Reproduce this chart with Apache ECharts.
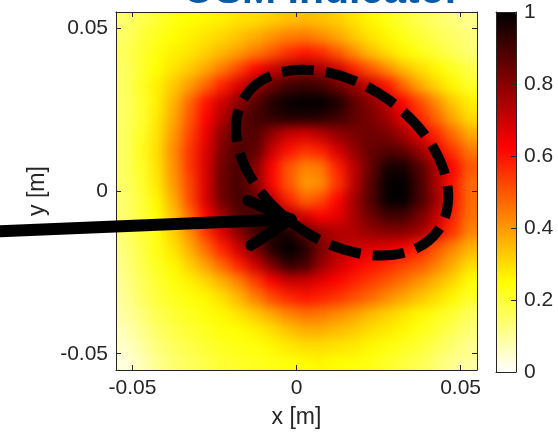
<!DOCTYPE html>
<html><head><meta charset="utf-8">
<script src="https://cdn.jsdelivr.net/npm/echarts@6/dist/echarts.min.js"></script>
<style>html,body{margin:0;padding:0;background:#fff}
#wrap{position:relative;width:558px;height:434px;overflow:hidden}
#clip{position:absolute;left:116px;top:12px;width:361px;height:359px;overflow:hidden}
#hm{position:absolute;left:-30px;top:-30px;width:421px;height:419px;filter:blur(6px)}
#c{position:absolute;left:0;top:0;width:558px;height:434px}
</style>
</head><body><div id="wrap"><div id="clip"><div id="hm"></div></div><div id="c"></div></div>
<script>
// ---- data ----
var xCenters = [-0.0525,-0.0475,-0.0425,-0.0375,-0.0325,-0.0275,-0.0225,-0.0175,-0.0125,-0.0075,-0.0025,0.0025,0.0075,0.0125,0.0175,0.0225,0.0275,0.0325,0.0375,0.0425,0.0475,0.0525];
var yCenters = [0.0525,0.0475,0.0425,0.0375,0.0325,0.0275,0.0225,0.0175,0.0125,0.0075,0.0025,-0.0025,-0.0075,-0.0125,-0.0175,-0.0225,-0.0275,-0.0325,-0.0375,-0.0425,-0.0475,-0.0525];
var osmValues = [
[0.14,0.17,0.2,0.23,0.25,0.26,0.27,0.29,0.3,0.32,0.34,0.35,0.34,0.32,0.29,0.26,0.23,0.2,0.17,0.15,0.13,0.11],
[0.15,0.19,0.22,0.25,0.27,0.29,0.31,0.34,0.37,0.41,0.44,0.45,0.42,0.38,0.33,0.29,0.26,0.23,0.2,0.17,0.15,0.13],
[0.16,0.2,0.24,0.27,0.29,0.32,0.36,0.4,0.45,0.5,0.56,0.6,0.57,0.5,0.42,0.35,0.3,0.26,0.23,0.2,0.17,0.14],
[0.15,0.2,0.25,0.29,0.33,0.38,0.45,0.53,0.62,0.7,0.76,0.78,0.76,0.7,0.58,0.5,0.42,0.35,0.3,0.26,0.22,0.18],
[0.15,0.21,0.27,0.33,0.4,0.48,0.58,0.68,0.78,0.85,0.9,0.92,0.9,0.84,0.78,0.7,0.6,0.48,0.38,0.31,0.26,0.21],
[0.15,0.2,0.27,0.36,0.48,0.6,0.7,0.8,0.87,0.95,0.99,1.0,1.0,0.96,0.86,0.8,0.72,0.62,0.52,0.42,0.33,0.27],
[0.15,0.2,0.28,0.38,0.5,0.62,0.74,0.86,0.9,0.93,0.95,0.95,0.94,0.91,0.86,0.82,0.76,0.66,0.57,0.48,0.38,0.3],
[0.15,0.21,0.29,0.4,0.53,0.65,0.8,0.87,0.88,0.78,0.7,0.68,0.72,0.78,0.82,0.84,0.82,0.76,0.67,0.57,0.47,0.38],
[0.15,0.22,0.3,0.42,0.55,0.67,0.82,0.89,0.86,0.7,0.6,0.55,0.58,0.68,0.78,0.85,0.88,0.86,0.78,0.66,0.55,0.45],
[0.15,0.21,0.29,0.41,0.55,0.68,0.84,0.9,0.8,0.62,0.5,0.43,0.45,0.58,0.72,0.85,0.96,0.97,0.88,0.75,0.62,0.5],
[0.15,0.2,0.28,0.4,0.53,0.68,0.85,0.9,0.8,0.62,0.5,0.4,0.42,0.55,0.72,0.87,0.99,1.0,0.9,0.75,0.6,0.47],
[0.14,0.19,0.26,0.37,0.52,0.68,0.84,0.9,0.87,0.72,0.58,0.48,0.52,0.62,0.76,0.88,0.99,1.0,0.9,0.78,0.6,0.47],
[0.14,0.19,0.25,0.34,0.47,0.62,0.76,0.88,0.91,0.89,0.75,0.68,0.62,0.66,0.75,0.84,0.9,0.9,0.83,0.72,0.58,0.46],
[0.14,0.19,0.24,0.32,0.42,0.55,0.68,0.8,0.91,0.96,0.96,0.86,0.78,0.74,0.74,0.78,0.8,0.8,0.76,0.67,0.55,0.43],
[0.13,0.18,0.23,0.29,0.37,0.47,0.58,0.7,0.82,0.95,1.0,0.95,0.82,0.74,0.7,0.68,0.66,0.63,0.58,0.5,0.43,0.36],
[0.12,0.17,0.22,0.26,0.32,0.39,0.48,0.58,0.7,0.82,0.93,0.9,0.78,0.7,0.64,0.6,0.57,0.53,0.5,0.44,0.37,0.3],
[0.11,0.16,0.2,0.24,0.27,0.31,0.37,0.44,0.54,0.63,0.7,0.7,0.66,0.62,0.58,0.54,0.5,0.46,0.41,0.36,0.31,0.25],
[0.1,0.15,0.19,0.22,0.24,0.26,0.3,0.36,0.44,0.52,0.57,0.6,0.58,0.55,0.51,0.47,0.42,0.38,0.34,0.3,0.26,0.21],
[0.09,0.13,0.17,0.2,0.22,0.24,0.26,0.29,0.33,0.38,0.43,0.46,0.45,0.42,0.39,0.35,0.32,0.29,0.26,0.23,0.2,0.16],
[0.07,0.11,0.15,0.18,0.2,0.22,0.24,0.25,0.27,0.3,0.34,0.37,0.37,0.35,0.33,0.3,0.28,0.26,0.23,0.2,0.17,0.14],
[0.05,0.09,0.13,0.16,0.18,0.2,0.22,0.23,0.24,0.26,0.28,0.3,0.3,0.29,0.28,0.26,0.24,0.22,0.2,0.17,0.14,0.11],
[0.03,0.07,0.11,0.14,0.16,0.18,0.2,0.21,0.22,0.23,0.24,0.25,0.26,0.25,0.24,0.23,0.21,0.19,0.17,0.14,0.11,0.09]
];
var xTicks = [-0.05, 0, 0.05];
var yTicks = [-0.05, 0, 0.05];
var xTickLabels = ['-0.05', '0', '0.05'];
var yTickLabels = ['-0.05', '0', '0.05'];
var cbTicks = [0, 0.2, 0.4, 0.6, 0.8, 1];
var cbTickLabels = ['0', '0.2', '0.4', '0.6', '0.8', '1'];
var arrowShaft = [[-0.0903, -0.0124], [-0.0017, -0.0087]];
var arrowHead = [[-0.0148, -0.0029], [-0.0017, -0.0087], [-0.0139, -0.0167]];
var ellipseCenter = [0.0139, 0.0087];
var ellipseSemiAxes = [0.0358, 0.0240];
var ellipseAngleDeg = -35;
var titleText = 'OSM Indicator';
var xName = 'x [m]';
var yName = 'y [m]';

// ---- styling ----
var FONT = '"Liberation Sans", Arial, Helvetica, sans-serif';
var AX = '#262626';
var hot = ['#ffffff','#ffff80','#ffff00','#ffaa00','#ff5500','#ff0000','#aa0000','#550000','#000000'];
var XMIN = -0.055, XMAX = 0.055, YMIN = -0.055, YMAX = 0.055;
var PAD = 30;

var cells = [];
for (var j = 0; j < yCenters.length; j++) {
  for (var i = 0; i < xCenters.length; i++) {
    cells.push([xCenters[i], yCenters[j], osmValues[j][i]]);
  }
}
var halfX = Math.abs(xCenters[1] - xCenters[0]) / 2;
var halfY = Math.abs(yCenters[1] - yCenters[0]) / 2;
var xLo = Math.min.apply(null, xCenters), xHi = Math.max.apply(null, xCenters);
var yLo = Math.min.apply(null, yCenters), yHi = Math.max.apply(null, yCenters);

function fmt(list, labels) { return function (v) { for (var k = 0; k < list.length; k++) { if (Math.abs(list[k] - v) < 1e-9) return labels[k]; } return ''; }; }

var G0 = {left: 116, top: 12, width: 361, height: 359};
var G1 = {left: 496, top: 12, width: 20, height: 360};

// ---- heat layer (smoothed by a CSS blur, clipped to the plot box) ----
var hm = echarts.init(document.getElementById('hm'), null, {renderer: 'canvas'});
hm.setOption({
  animation: false,
  grid: {left: PAD, top: PAD, width: G0.width, height: G0.height},
  xAxis: {type: 'value', min: XMIN, max: XMAX, show: false},
  yAxis: {type: 'value', min: YMIN, max: YMAX, show: false},
  visualMap: {type: 'continuous', min: 0, max: 1, dimension: 2, seriesIndex: 0, inRange: {color: hot}, show: false},
  series: [{
    type: 'custom', data: cells, encode: {x: 0, y: 1}, silent: true, clip: false,
    renderItem: function (params, api) {
      var cs = params.coordSys;
      var x = api.value(0), y = api.value(1);
      var p1 = api.coord([x - halfX, y + halfY]);
      var p2 = api.coord([x + halfX, y - halfY]);
      var x1 = Math.round(p1[0]), y1 = Math.round(p1[1]), x2 = Math.round(p2[0]), y2 = Math.round(p2[1]);
      if (Math.abs(x - xLo) < 1e-9) x1 = cs.x - PAD;
      if (Math.abs(x - xHi) < 1e-9) x2 = cs.x + cs.width + PAD;
      if (Math.abs(y - yHi) < 1e-9) y1 = cs.y - PAD;
      if (Math.abs(y - yLo) < 1e-9) y2 = cs.y + cs.height + PAD;
      return {type: 'rect', shape: {x: x1, y: y1, width: x2 - x1, height: y2 - y1}, style: {fill: api.visual('color')}};
    }
  }]
});

// ---- main chart: axes, colorbar, annotations ----
function boxAxis(grid, pos, min, max, ticks, withLabels, labels, extra) {
  var a = {
    gridIndex: grid, type: 'value', position: pos, min: min, max: max, z: 6,
    axisLine: {show: true, onZero: false, lineStyle: {color: AX, width: 1}},
    axisTick: {show: !!ticks, inside: true, length: 5, customValues: ticks || [], lineStyle: {color: AX, width: 1}},
    axisLabel: {show: withLabels, customValues: ticks || [], color: AX, fontSize: 21, fontFamily: FONT, formatter: withLabels ? fmt(ticks, labels) : null},
    splitLine: {show: false}
  };
  for (var k in extra) a[k] = extra[k];
  return a;
}

var chart = echarts.init(document.getElementById('c'), null, {renderer: 'canvas'});
chart.setOption({
  animation: false,
  backgroundColor: 'transparent',
  grid: [
    {left: G0.left, top: G0.top, width: G0.width, height: G0.height},
    {left: G1.left, top: G1.top, width: G1.width, height: G1.height}
  ],
  xAxis: [
    boxAxis(0, 'bottom', XMIN, XMAX, xTicks, true, xTickLabels, {name: xName, nameLocation: 'middle', nameGap: 36, nameTextStyle: {fontSize: 23, color: AX, fontFamily: FONT}}),
    boxAxis(0, 'top', XMIN, XMAX, xTicks, false),
    boxAxis(1, 'bottom', 0, 1, null, false),
    boxAxis(1, 'top', 0, 1, null, false)
  ],
  yAxis: [
    boxAxis(0, 'left', YMIN, YMAX, yTicks, true, yTickLabels, {name: yName, nameLocation: 'middle', nameGap: 64, nameTextStyle: {fontSize: 23, color: AX, fontFamily: FONT}}),
    boxAxis(0, 'right', YMIN, YMAX, yTicks, false),
    boxAxis(1, 'left', 0, 1, null, false),
    boxAxis(1, 'right', 0, 1, cbTicks, true, cbTickLabels)
  ],
  visualMap: {
    type: 'continuous', min: 0, max: 1, dimension: 2, seriesIndex: 0,
    inRange: {color: hot}, left: G1.left, top: G1.top, itemWidth: G1.width, itemHeight: G1.height,
    padding: 0, calculable: false, hoverLink: false, text: null, z: 4
  },
  series: [
    {
      // same cells, drawn by the blurred layer underneath
      type: 'custom', xAxisIndex: 0, yAxisIndex: 0, data: cells, encode: {x: 0, y: 1}, silent: true,
      renderItem: function () { return {type: 'group', children: []}; }
    }
  ]
});

function px(p) { return chart.convertToPixel({gridIndex: 0}, p); }
var c = px(ellipseCenter);
var ex = px([ellipseCenter[0] + ellipseSemiAxes[0], ellipseCenter[1]]);
var ey = px([ellipseCenter[0], ellipseCenter[1] + ellipseSemiAxes[1]]);
var tl = px([0.0077, YMAX]);
chart.setOption({
  graphic: [
    {
      type: 'ellipse', x: c[0], y: c[1], rotation: ellipseAngleDeg * Math.PI / 180, z: 10, silent: true,
      shape: {cx: 0, cy: 0, rx: ex[0] - c[0], ry: c[1] - ey[1]},
      style: {fill: 'none', stroke: '#000', lineWidth: 10, lineDash: [32, 12]}
    },
    {
      type: 'polyline', z: 11, silent: true,
      shape: {points: arrowShaft.map(px)},
      style: {fill: 'none', stroke: '#000', lineWidth: 12, lineCap: 'round'}
    },
    {
      type: 'polyline', z: 11, silent: true,
      shape: {points: arrowHead.map(px)},
      style: {fill: 'none', stroke: '#000', lineWidth: 11, lineCap: 'round', lineJoin: 'round'}
    },
    {
      type: 'text', x: tl[0], y: -8.5, z: 10, silent: true,
      style: {text: titleText, font: 'bold 41px ' + FONT, fill: '#0b5aa5', align: 'center', verticalAlign: 'middle', textAlign: 'center', textVerticalAlign: 'middle'}
    }
  ]
});
</script></body></html>
